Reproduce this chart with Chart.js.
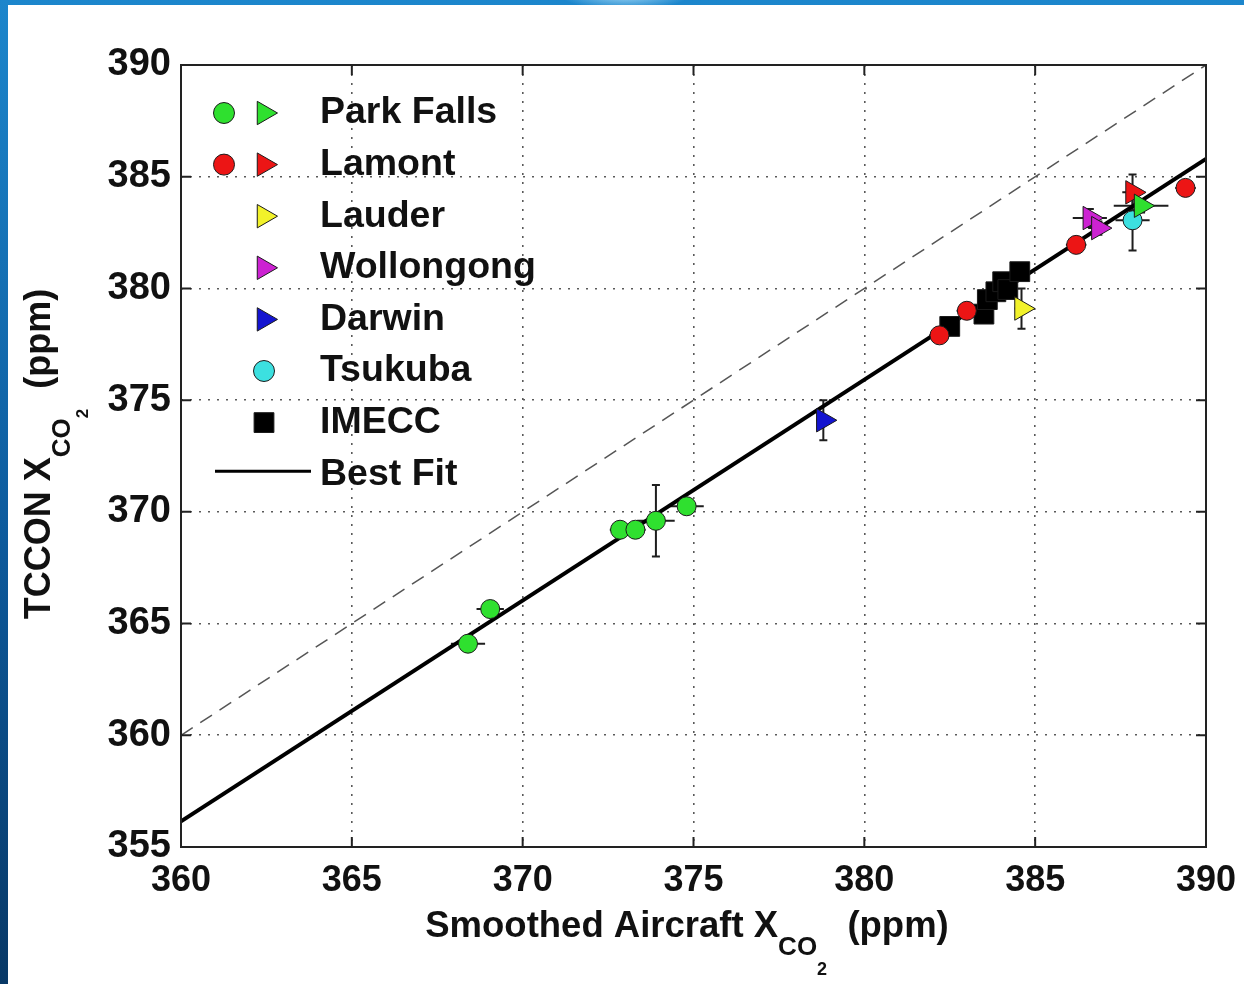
<!DOCTYPE html>
<html>
<head>
<meta charset="utf-8">
<title>TCCON vs aircraft XCO2</title>
<script src="https://cdn.jsdelivr.net/npm/chart.js@4.4.1/dist/chart.umd.min.js"></script>
<style>
  html, body { margin: 0; padding: 0; }
  body {
    width: 1244px; height: 984px; overflow: hidden; position: relative;
    background: linear-gradient(180deg, #1c86cc 0%, #0d5a9c 55%, #083866 100%);
  }
  #glow {
    position: absolute; left: 560px; top: -20px; width: 130px; height: 30px;
    background: radial-gradient(ellipse at center, #9fd6f5 0%, rgba(120,190,235,0) 70%);
  }
  #panel { position: absolute; left: 8px; top: 5px; right: 0; bottom: 0; background: #fff; }
  #chart { position: absolute; left: 0; top: 0; }
</style>
</head>
<body>
<div id="glow"></div>
<div id="panel"></div>
<canvas id="chart" width="1244" height="984"></canvas>
<script>
// ---------- Data (ppm) ----------
const xTicks = [360, 365, 370, 375, 380, 385, 390];
const yTicks = [355, 360, 365, 370, 375, 380, 385, 390];

const parkFallsX    = [368.4, 369.05, 372.85, 373.3, 373.9, 374.8];
const parkFallsY    = [364.1, 365.65, 369.2, 369.2, 369.6, 370.25];
const parkFallsXErr = [0.5, 0.4, 0.3, 0.3, 0.55, 0.5];
const parkFallsYErr = [0.3, 0.3, 0.3, 0.3, 1.6, 0.3];

const parkFallsTriX    = [388.1];
const parkFallsTriY    = [383.7];
const parkFallsTriXErr = [0.8];
const parkFallsTriYErr = [0.3];

const lamontX    = [382.2, 383.0, 386.2, 389.4];
const lamontY    = [377.9, 379.0, 381.95, 384.5];
const lamontXErr = [0.3, 0.3, 0.3, 0.3];
const lamontYErr = [0.3, 0.3, 0.3, 0.3];

const lamontTriX    = [387.85];
const lamontTriY    = [384.3];
const lamontTriXErr = [0.3];
const lamontTriYErr = [0.8];

const lauderTriX    = [384.6];
const lauderTriY    = [379.1];
const lauderTriXErr = [0.2];
const lauderTriYErr = [0.9];

const wollongongTriX    = [386.6, 386.85];
const wollongongTriY    = [383.15, 382.7];
const wollongongTriXErr = [0.5, 0.3];
const wollongongTriYErr = [0.4, 0.3];

const darwinTriX    = [378.8];
const darwinTriY    = [374.1];
const darwinTriXErr = [0.2];
const darwinTriYErr = [0.9];

const tsukubaX    = [387.85];
const tsukubaY    = [383.05];
const tsukubaXErr = [0.5];
const tsukubaYErr = [1.35];

const imeccX = [382.5, 383.5, 383.6, 383.85, 384.05, 384.2, 384.55];
const imeccY = [378.3, 378.85, 379.5, 379.85, 380.3, 379.95, 380.75];

const fitX = [360, 390];
const fitY = [356.15, 385.8];
const oneToOneX = [360, 390];
const oneToOneY = [360, 390];

const stations = ['Park Falls', 'Lamont', 'Lauder', 'Wollongong', 'Darwin', 'Tsukuba', 'IMECC'];

// ---------- Helpers ----------
const FONT = '"Liberation Sans", Arial, Helvetica, sans-serif';
const pts = (xs, ys) => xs.map((x, i) => ({ x, y: ys[i] }));
const zeros = (n) => new Array(n).fill(0);

function markerSet(label, xs, ys, xErr, yErr, style, color) {
  const tri = style === 'tri';
  return {
    label,
    data: pts(xs, ys),
    xErr: xErr || zeros(xs.length),
    yErr: yErr || zeros(xs.length),
    pointStyle: tri ? 'triangle' : style,
    pointRotation: tri ? 90 : 0,
    pointRadius: tri ? 13.5 : (style === 'rect' ? 14 : 9.5),
    pointHoverRadius: tri ? 13.5 : 10,
    pointBackgroundColor: color,
    pointBorderColor: '#1b1b1b',
    pointBorderWidth: 1,
    showLine: false,
    order: 0,
  };
}

const GREEN = '#2fe02f', RED = '#ec1515', YELLOW = '#f2f22a', MAGENTA = '#cc22d2',
      BLUE = '#1414d0', CYAN = '#3ce0e0', BLACK = '#000000';

const datasets = [
  markerSet('Park Falls', parkFallsX, parkFallsY, parkFallsXErr, parkFallsYErr, 'circle', GREEN),
  markerSet('Park Falls', parkFallsTriX, parkFallsTriY, parkFallsTriXErr, parkFallsTriYErr, 'tri', GREEN),
  markerSet('Lamont', lamontX, lamontY, lamontXErr, lamontYErr, 'circle', RED),
  markerSet('Lamont', lamontTriX, lamontTriY, lamontTriXErr, lamontTriYErr, 'tri', RED),
  markerSet('Lauder', lauderTriX, lauderTriY, lauderTriXErr, lauderTriYErr, 'tri', YELLOW),
  markerSet('Wollongong', wollongongTriX, wollongongTriY, wollongongTriXErr, wollongongTriYErr, 'tri', MAGENTA),
  markerSet('Darwin', darwinTriX, darwinTriY, darwinTriXErr, darwinTriYErr, 'tri', BLUE),
  markerSet('Tsukuba', tsukubaX, tsukubaY, tsukubaXErr, tsukubaYErr, 'circle', CYAN),
  markerSet('IMECC', imeccX, imeccY, null, null, 'rect', BLACK),
  {
    label: 'Best Fit', type: 'line', data: pts(fitX, fitY),
    borderColor: '#000', borderWidth: 4, pointRadius: 0, fill: false, order: 5,
  },
  {
    label: '1:1', type: 'line', data: pts(oneToOneX, oneToOneY),
    borderColor: '#555', borderWidth: 1.5, borderDash: [14, 9], pointRadius: 0, fill: false, order: 6,
  },
];

// ---------- Plugins ----------
const errorBars = {
  id: 'errorBars',
  beforeDatasetsDraw(chart) {
    const { ctx, scales: { x, y } } = chart;
    ctx.save();
    ctx.strokeStyle = '#1e1e1e';
    ctx.lineWidth = 2;
    chart.data.datasets.forEach((ds) => {
      if (!ds.xErr) return;
      ds.data.forEach((p, i) => {
        const px = x.getPixelForValue(p.x), py = y.getPixelForValue(p.y);
        const ex = ds.xErr[i], ey = ds.yErr[i];
        ctx.beginPath();
        if (ex > 0) {
          const x0 = x.getPixelForValue(p.x - ex), x1 = x.getPixelForValue(p.x + ex);
          ctx.moveTo(x0, py); ctx.lineTo(x1, py);
        }
        if (ey > 0) {
          const y0 = y.getPixelForValue(p.y - ey), y1 = y.getPixelForValue(p.y + ey);
          ctx.moveTo(px, y0); ctx.lineTo(px, y1);
          ctx.moveTo(px - 4, y0); ctx.lineTo(px + 4, y0);
          ctx.moveTo(px - 4, y1); ctx.lineTo(px + 4, y1);
        }
        ctx.stroke();
      });
    });
    ctx.restore();
  },
};

function drawRichText(ctx, parts, cx, cy, angle) {
  ctx.save();
  ctx.translate(cx, cy);
  ctx.rotate(angle);
  ctx.fillStyle = '#111';
  ctx.textBaseline = 'alphabetic';
  ctx.textAlign = 'left';
  let total = 0;
  parts.forEach((p) => { ctx.font = `bold ${p.size}px ${FONT}`; p.w = ctx.measureText(p.text).width; total += p.w; });
  let xx = -total / 2;
  parts.forEach((p) => { ctx.font = `bold ${p.size}px ${FONT}`; ctx.fillText(p.text, xx, p.dy); xx += p.w; });
  ctx.restore();
}

const frameAndLegend = {
  id: 'frameAndLegend',
  afterDatasetsDraw(chart) {
    const { ctx, chartArea: a, scales: { x, y } } = chart;
    ctx.save();

    // legend (no box, grid shows through, as in the MATLAB figure)
    const rowY0 = 113, rowStep = 51.6;
    const col0 = 224, col1 = 264, textX = 320;
    ctx.font = `bold 37.5px ${FONT}`;
    ctx.textBaseline = 'middle';
    ctx.fillStyle = '#111';
    stations.forEach((name, r) => {
      const yy = rowY0 + r * rowStep;
      const sets = chart.data.datasets.filter((d) => d.label === name);
      sets.forEach((d, k) => {
        const cx = sets.length > 1 && k === 0 ? col0 : col1;
        ctx.fillStyle = d.pointBackgroundColor;
        ctx.strokeStyle = d.pointBorderColor;
        ctx.lineWidth = 1;
        const rad = d.pointStyle === 'circle' ? 10.5 : d.pointRadius;
        Chart.helpers.drawPoint(ctx, { pointStyle: d.pointStyle, radius: rad, rotation: d.pointRotation, borderWidth: 1 }, cx, yy);
      });
      ctx.fillStyle = '#111';
      ctx.fillText(name, textX, yy);
    });
    const fitRow = rowY0 + stations.length * rowStep;
    ctx.strokeStyle = '#000';
    ctx.lineWidth = 3;
    ctx.beginPath(); ctx.moveTo(215, fitRow - 3); ctx.lineTo(311, fitRow - 3); ctx.stroke();
    ctx.fillText('Best Fit', textX, fitRow);

    // axes box with inward ticks
    ctx.strokeStyle = '#222';
    ctx.lineWidth = 2;
    ctx.strokeRect(a.left, a.top, a.right - a.left, a.bottom - a.top);
    ctx.beginPath();
    xTicks.forEach((v) => {
      const px = x.getPixelForValue(v);
      ctx.moveTo(px, a.bottom); ctx.lineTo(px, a.bottom - 10);
      ctx.moveTo(px, a.top); ctx.lineTo(px, a.top + 10);
    });
    yTicks.forEach((v) => {
      const py = y.getPixelForValue(v);
      ctx.moveTo(a.left, py); ctx.lineTo(a.left + 10, py);
      ctx.moveTo(a.right, py); ctx.lineTo(a.right - 10, py);
    });
    ctx.stroke();
    ctx.restore();

    // axis titles with subscripts
    drawRichText(ctx, [
      { text: 'Smoothed Aircraft X', size: 36.5, dy: 0 },
      { text: 'CO', size: 26, dy: 18 },
      { text: '2', size: 18, dy: 38 },
      { text: '  (ppm)', size: 36.5, dy: 0 },
    ], 687, 937, 0);
    drawRichText(ctx, [
      { text: 'TCCON X', size: 36, dy: 0 },
      { text: 'CO', size: 26, dy: 20 },
      { text: '2', size: 17, dy: 38 },
      { text: '  (ppm)', size: 36, dy: 0 },
    ], 50, 454, -Math.PI / 2);
  },
};

// ---------- Chart ----------
const gridStyle = { color: '#5a5a5a', lineWidth: 1.6, drawTicks: false };

new Chart(document.getElementById('chart').getContext('2d'), {
  type: 'scatter',
  data: { datasets },
  options: {
    responsive: false,
    animation: false,
    layout: { padding: { left: 0, top: 65, right: 38, bottom: 0 } },
    plugins: { legend: { display: false }, tooltip: { enabled: false } },
    scales: {
      x: {
        type: 'linear', min: xTicks[0], max: xTicks[xTicks.length - 1],
        afterBuildTicks: (s) => { s.ticks = xTicks.map((v) => ({ value: v })); },
        ticks: { color: '#111', font: { family: FONT, size: 36, weight: 'bold' }, padding: 12, maxRotation: 0, autoSkip: false },
        grid: gridStyle,
        border: { display: false, dash: [2, 7] },
        afterFit: (s) => { s.height = 137; s.paddingLeft = 0; s.paddingRight = 0; },
      },
      y: {
        type: 'linear', min: yTicks[0], max: yTicks[yTicks.length - 1],
        afterBuildTicks: (s) => { s.ticks = yTicks.map((v) => ({ value: v })); },
        ticks: { color: '#111', font: { family: FONT, size: 38, weight: 'bold' }, padding: 10, autoSkip: false },
        grid: gridStyle,
        border: { display: false, dash: [2, 7] },
        afterFit: (s) => { s.width = 181; s.paddingTop = 0; s.paddingBottom = 0; },
      },
    },
  },
  plugins: [errorBars, frameAndLegend],
});
</script>
</body>
</html>
